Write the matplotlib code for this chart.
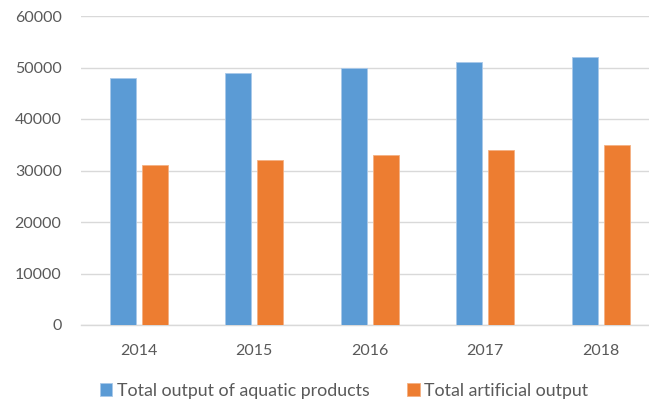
import matplotlib
matplotlib.use("Agg")
import matplotlib.pyplot as plt
import numpy as np

years = ["2014", "2015", "2016", "2017", "2018"]
aquatic = [48000, 49000, 50000, 51000, 52000]
artificial = [31000, 32000, 33000, 34000, 35000]
series_names = ["Total output of aquatic products", "Total artificial output"]
colors = ["#5B9BD5", "#ED7D31"]

plt.rcParams['font.family'] = ['Lato', 'DejaVu Sans']
text_color = "#595959"

fig = plt.figure(figsize=(6.49, 4.05), dpi=100)
W, H = 649, 405
ax = fig.add_axes([81 / W, 1 - 325 / H, 577.5 / W, 309 / H])

x = np.arange(len(years))
bw = 0.222
off = 0.139
ax.bar(x - off, aquatic, bw, color=colors[0], label=series_names[0],
       edgecolor="#A9C9EA", linewidth=0.6, zorder=3)
ax.bar(x + off, artificial, bw, color=colors[1], label=series_names[1],
       edgecolor="#F4B183", linewidth=0.6, zorder=3)

ax.set_xlim(-0.5, len(years) - 0.5)
ax.set_ylim(0, 60000)
ax.set_yticks(np.arange(0, 60001, 10000))
ax.set_xticks(x)
ax.set_xticklabels(years)
ax.grid(axis="y", color="#D9D9D9", linewidth=1.0, zorder=0)
ax.set_axisbelow(True)
for s in ["top", "right", "left"]:
    ax.spines[s].set_visible(False)
ax.spines["bottom"].set_color("#D9D9D9")
ax.spines["bottom"].set_linewidth(1.0)
ax.tick_params(axis="both", length=0, labelsize=11.5, labelcolor=text_color)
ax.tick_params(axis="y", pad=14)
ax.tick_params(axis="x", pad=14)

handles, labels = ax.get_legend_handles_labels()
fig.legend(handles, labels, loc="center", bbox_to_anchor=(344 / W, 1 - 391 / H),
           ncol=2, frameon=False, fontsize=12.8, labelcolor=text_color,
           handlelength=0.72, handleheight=0.72, handletextpad=0.25, columnspacing=2.1)

fig.savefig("out.png", dpi=100)
